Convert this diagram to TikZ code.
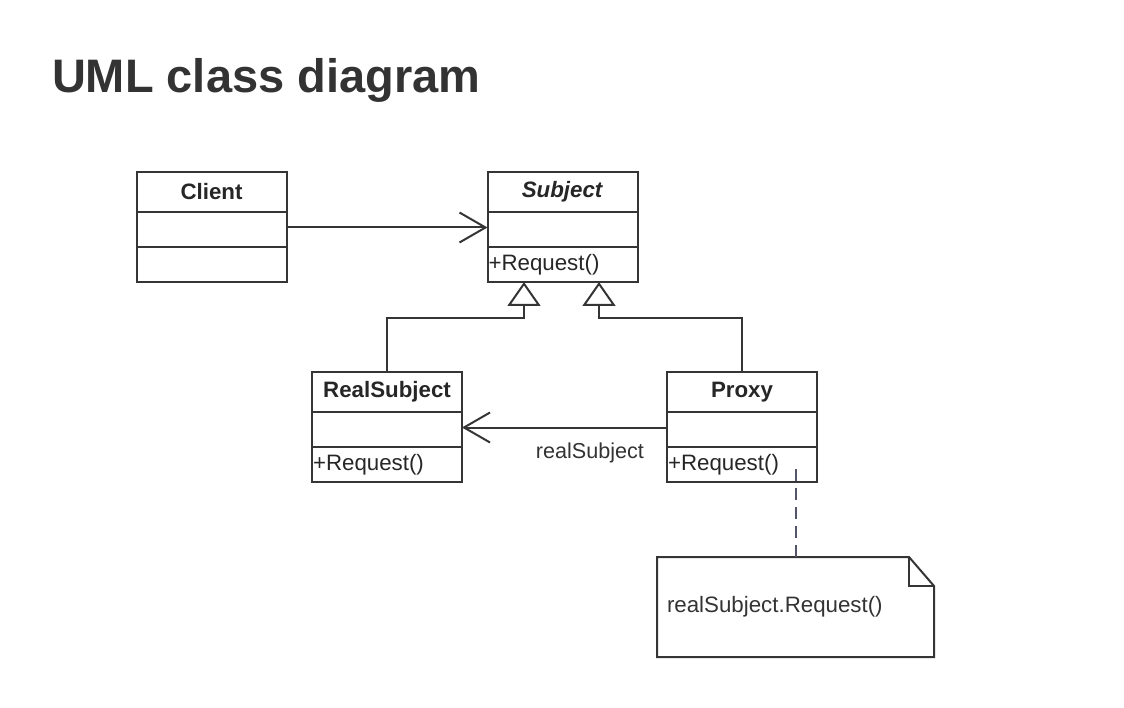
\documentclass[tikz,border=0pt]{standalone}
\usepackage{fontspec}
\setmainfont{Liberation Sans}
\usepackage{xcolor}
\usepackage{tikz}
\usetikzlibrary{positioning,arrows.meta}
\definecolor{inkgray}{HTML}{333333}
\definecolor{umlline}{HTML}{353535}
\definecolor{tiegray}{HTML}{55556A}
\def\umlfont{\fontsize{22.3}{26}\selectfont}

\begin{document}
\begin{tikzpicture}[x=1pt,y=-1pt,line width=2pt,draw=umlline]
    \tikzstyle{classname}=[draw,minimum width=150pt,minimum height=40pt,inner sep=0pt,outer sep=0pt,font=\umlfont\bfseries,text=black!85]
    \tikzstyle{classpart}=[draw,minimum width=150pt,minimum height=35pt,inner xsep=1pt,inner ysep=0pt,outer sep=0pt,text width=148pt,align=left,font=\umlfont,text=black!85]
    \tikzstyle{assoc}=[-{Straight Barb[length=26pt,width=30pt]}]
    \tikzstyle{inherit}=[-{Triangle[open,length=24pt,width=33pt]}]
    \tikzstyle{tieline}=[draw=tiegray,dash pattern=on 12pt off 7pt]
    \tikzstyle{note}=[minimum width=277pt,minimum height=100pt,inner xsep=10pt,outer sep=0pt,text width=257pt,align=left,font=\umlfont,text=black!80]
    \tikzstyle{annot}=[inner sep=0pt,font=\fontsize{21.6}{25}\selectfont,text=black!80]

    \useasboundingbox (0,0) rectangle (1124,708);

    % Title
    \node[anchor=base west,inner sep=0pt,text=inkgray,font=\fontsize{47}{56}\selectfont\bfseries] (Title) at (51,93) {UML class diagram};

    % Draw the classes: name, attributes, operations
    \foreach \name / \x / \y / \title / \op in {Client/211.5/192/{Client}/{},
                                               Subject/562.5/192/{\textit{Subject}}/{+Request()},
                                               RealSubject/387/392/{RealSubject}/{+Request()},
                                               Proxy/742/392/{Proxy}/{+Request()}}
    {
        \node[classname] (\name) at (\x,\y) {\title};
        \node[classpart,below=0pt of \name] (\name-attr) {};
        \node[classpart,below=0pt of \name-attr] (\name-ops) {\op};
    }

    % Associations
    \draw[assoc] ([yshift=2pt]Client-attr.east) -- ([yshift=2pt]Subject-attr.west);
    \draw[assoc] ([yshift=2pt]Proxy-attr.west) -- ([yshift=2pt]RealSubject-attr.east)
        node[annot,pos=0,anchor=north east,xshift=-22pt,yshift=-14pt] (role) {realSubject};

    % Generalisations
    \draw[inherit] (RealSubject.north) -- ++(0,-54) -| ([xshift=-38.5pt]Subject-ops.south);
    \draw[inherit] (Proxy.north) -- ++(0,-54) -| ([xshift=36.5pt]Subject-ops.south);

    % Note attached to Proxy::Request()
    \node[note] (Note) at (795.5,607) {realSubject.Request()};
    \draw (Note.north west) -- ([xshift=-25pt]Note.north east) -- ([yshift=-29pt]Note.north east)
        -- (Note.south east) -- (Note.south west) -- cycle;
    \draw ([xshift=-25pt]Note.north east) |- ([yshift=-29pt]Note.north east);
    \coordinate (tie) at (795.5,469);
    \draw[tieline] (tie) -- (Note.north);

\end{tikzpicture}
\end{document}
